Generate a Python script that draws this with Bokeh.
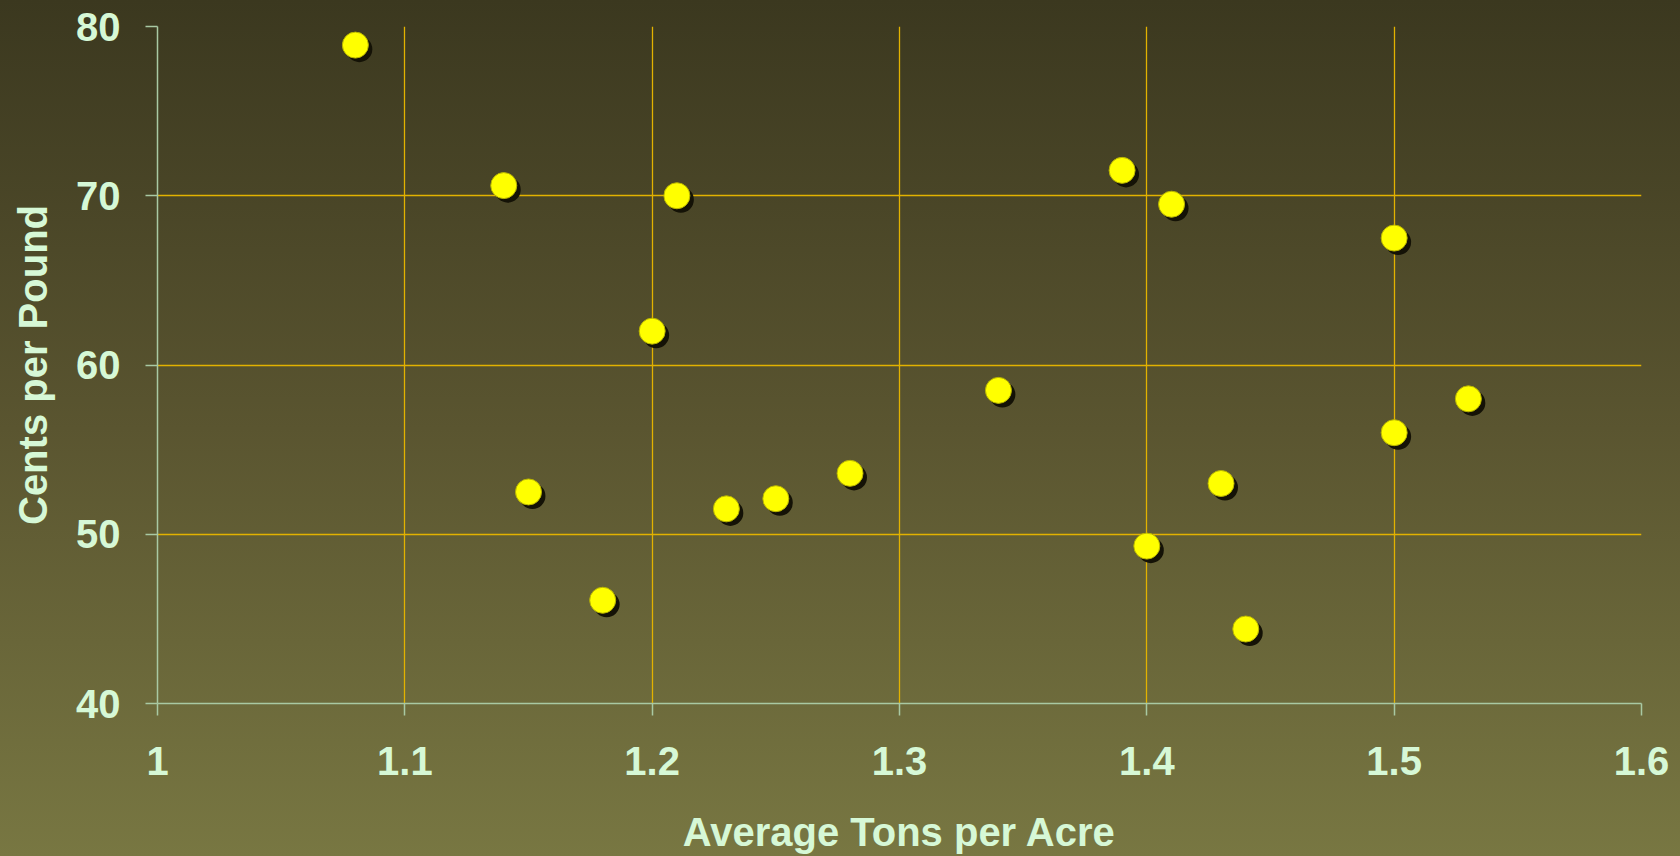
from bokeh.plotting import figure
from bokeh.models import Range1d, FixedTicker, NumeralTickFormatter, ColumnDataSource, GlobalInlineStyleSheet
from bokeh.transform import dodge
from bokeh.embed import file_html
from bokeh.resources import INLINE

# Data
tons = [1.08, 1.14, 1.21, 1.20, 1.15, 1.18, 1.23, 1.25, 1.28, 1.34,
        1.39, 1.41, 1.40, 1.43, 1.44, 1.50, 1.50, 1.53]
cents = [78.9, 70.6, 70.0, 62.0, 52.5, 46.1, 51.5, 52.1, 53.6, 58.5,
         71.5, 69.5, 49.3, 53.0, 44.4, 67.5, 56.0, 58.0]
x_ticks = [1.0, 1.1, 1.2, 1.3, 1.4, 1.5, 1.6]
y_ticks = [40, 50, 60, 70, 80]
x_title = "Average Tons per Acre"
y_title = "Cents per Pound"

FONT = "Liberation Sans"
TXT = "#d6f8d6"
AXC = "#a9c9a3"
GRID = "#e2b200"

src = ColumnDataSource(dict(x=tons, y=cents))

p = figure(width=1680, height=856, output_backend="svg", toolbar_location=None,
           x_range=Range1d(1.0, 1.6), y_range=Range1d(40, 80),
           min_border_left=157, min_border_top=26, min_border_right=39, min_border_bottom=153)
p.background_fill_alpha = 0
p.border_fill_alpha = 0
p.outline_line_color = None
p.stylesheets = [GlobalInlineStyleSheet(css=(
    "html{min-height:100%;background:linear-gradient(to bottom,#3b381f 0%,#5a5530 50%,#787742 100%) no-repeat;}"
    "body{background:transparent;}"))]

p.xaxis.ticker = FixedTicker(ticks=x_ticks)
p.yaxis.ticker = FixedTicker(ticks=y_ticks)
p.xaxis.formatter = NumeralTickFormatter(format="0.[0]")
p.yaxis.formatter = NumeralTickFormatter(format="0")

for ax in (p.xaxis, p.yaxis):
    ax.axis_line_color = AXC
    ax.axis_line_width = 1.5
    ax.major_tick_line_color = AXC
    ax.major_tick_line_width = 1.5
    ax.major_tick_out = 12
    ax.major_tick_in = 0
    ax.minor_tick_line_color = None
    ax.major_label_text_font = FONT
    ax.major_label_text_font_style = "bold"
    ax.major_label_text_font_size = "40px"
    ax.major_label_text_color = TXT
    ax.axis_label_text_font = FONT
    ax.axis_label_text_font_style = "bold"
    ax.axis_label_text_font_size = "40px"
    ax.axis_label_text_color = TXT

p.xaxis.major_label_standoff = 31
p.yaxis.major_label_standoff = 25
p.xaxis.axis_label = x_title
p.yaxis.axis_label = y_title
p.xaxis.axis_label_standoff = 32
p.yaxis.axis_label_standoff = 18

p.grid.grid_line_color = GRID
p.grid.grid_line_width = 1.3

# shadow then marker
p.scatter(x=dodge("x", 0.0016, range=p.x_range), y=dodge("y", -0.24, range=p.y_range),
          source=src, size=26, marker="circle", fill_color="#141206", line_color=None)
p.scatter(x="x", y="y", source=src, size=26, marker="circle",
          fill_color="#ffff00", line_color="#b8b400", line_width=1)

open("out.html", "w").write(file_html(p, INLINE))
